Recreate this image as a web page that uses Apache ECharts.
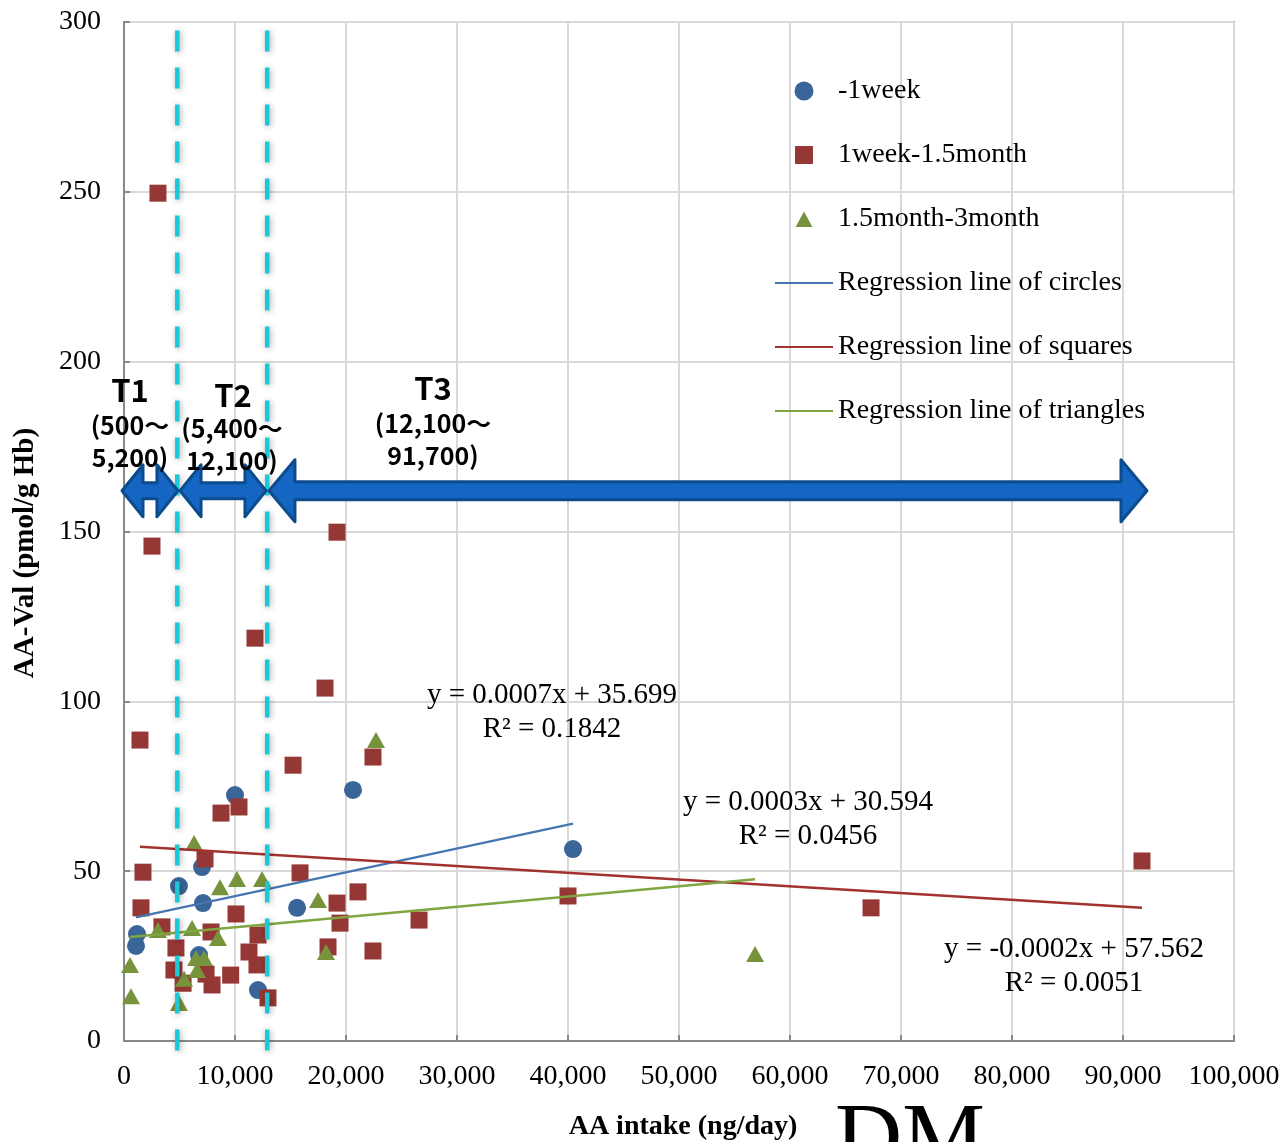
<!DOCTYPE html>
<html>
<head>
<meta charset="utf-8">
<title>AA-Val vs AA intake</title>
<script src="https://cdn.jsdelivr.net/npm/echarts@6/dist/echarts.min.js"></script>
<style>
  html, body { margin: 0; padding: 0; background: #fff; }
  #chart { width: 1285px; height: 1142px; }
</style>
</head>
<body>
<div id="chart"></div>
<script>
(function (window, document) {
    "use strict";

    // ---- data: [AA intake (ng/day), AA-Val (pmol/g Hb)] ----
    const circles = [
        [1080, 28], [1170, 31.5], [4950, 45.6], [6760, 25.3], [7030, 51.2], [7120, 40.6],
        [10000, 72.4], [12070, 15], [15590, 39.2], [20630, 73.9], [40450, 56.5]
    ];
    const squares = [
        [3060, 249.6], [2520, 145.7], [1440, 88.6], [1710, 49.7], [1530, 39.2], [3420, 33.6],
        [4680, 27.4], [4500, 20.9], [5320, 17], [7300, 53.6], [8740, 67.1], [10360, 68.9],
        [10090, 37.4], [7840, 32.1], [7390, 19.7], [7930, 16.5], [9610, 19.4], [11260, 26.2],
        [12070, 31.2], [11980, 22.4], [12970, 12.7], [11800, 118.6], [15230, 81.2], [18110, 103.9],
        [19190, 149.8], [15860, 49.5], [22430, 83.6], [19190, 40.6], [21080, 43.9], [19460, 34.7],
        [18380, 27.7], [22430, 26.5], [26580, 35.6], [40000, 42.7], [67300, 39.2], [91710, 53.0]
    ];
    const triangles = [
        [540, 22.4], [630, 13.2], [3060, 32.7], [4950, 11.2], [5410, 18.3], [6310, 58.3],
        [6130, 33.3], [6490, 24.4], [7210, 24.4], [6580, 20.9], [8470, 30.3], [8650, 45.3],
        [10180, 47.7], [12430, 47.7], [17480, 41.5], [18200, 26.2], [22700, 88.6], [56850, 25.6]
    ];

    // regression line end points, as drawn
    const circleFit = [[1080, 36.4], [40450, 64.0]];
    const squareFit = [[1440, 57.2], [91710, 39.2]];
    const triangleFit = [[540, 30.6], [56850, 47.6]];

    // tertile cut-offs (dashed) and range arrows [from, to, level, big]
    const cutoffs = [[4800, 297.5, -3.3], [12900, 297.5, -3.3]];
    const ranges = [[-180, 4860, 162, 0], [5050, 12790, 162, 0], [13060, 92160, 162, 1]];

    const xTicks = { min: 0, max: 100000, step: 10000 };
    const yTicks = { min: 0, max: 300, step: 50 };

    const names = [
        "-1week", "1week-1.5month", "1.5month-3month",
        "Regression line of circles", "Regression line of squares", "Regression line of triangles"
    ];

    const SERIF = "'Liberation Serif', 'Times New Roman', serif";
    const GOTHIC = "'Noto Sans CJK JP', sans-serif";
    const C = {
        circle: "#3A6598", square: "#953735", triangle: "#77933C",
        circleLine: "#4676B0", squareLine: "#A3322F", triangleLine: "#7FA640",
        grid: "#D9D9D9", axis: "#898989", cut: "#1CC7D6", arrow: "#1566C2", arrowEdge: "#0C4B8C"
    };
    const ICON = {
        square: "path://M0,0M18,18M0.5,0.5L17.5,0.5L17.5,17.5L0.5,17.5Z",
        triangle: "path://M0,0M18,18M9,2L17,16.5L1,16.5Z",
        line: "path://M0,0L58,0L58,2L0,2Z"
    };

    function fmt(v) { return Number(v).toLocaleString("en-US"); }

    function renderCutoff(params, api) {
        const a = api.coord([api.value(0), api.value(1)]);
        const b = api.coord([api.value(0), api.value(2)]);
        return {
            type: "line",
            shape: { x1: a[0], y1: a[1], x2: b[0], y2: b[1] },
            style: {
                stroke: C.cut, lineWidth: 4.5, lineDash: [21, 16],
                shadowBlur: 6, shadowColor: "rgba(0,0,0,0.35)", shadowOffsetX: 1, shadowOffsetY: 1
            }
        };
    }

    function renderArrow(params, api) {
        const a = api.coord([api.value(0), api.value(2)]);
        const b = api.coord([api.value(1), api.value(2)]);
        const big = api.value(3) === 1;
        const hl = big ? 26 : 21, hh = big ? 31 : 26, sh = big ? 9 : 8;
        const x0 = a[0], x1 = b[0], y = a[1];
        const pts = [
            [x0, y], [x0 + hl, y - hh], [x0 + hl, y - sh], [x1 - hl, y - sh], [x1 - hl, y - hh],
            [x1, y], [x1 - hl, y + hh], [x1 - hl, y + sh], [x0 + hl, y + sh], [x0 + hl, y + hh]
        ];
        return {
            type: "polygon",
            shape: { points: pts },
            style: { fill: C.arrow, stroke: C.arrowEdge, lineWidth: 3, lineJoin: "round" }
        };
    }

    // centred text at (x, y)
    function textEl(x, y, text, size, opts) {
        opts = opts || {};
        return Object.assign({
            type: "text", x: x, y: y, z: 20,
            style: {
                text: text, fill: "#000", align: "center", verticalAlign: "middle",
                font: (opts.bold ? "bold " : "") + size + "px " + (opts.family || SERIF),
                lineHeight: opts.lh || size
            }
        }, opts.extra);
    }

    function build() {
        const el = document.getElementById("chart");
        const chart = echarts.init(el, null, { renderer: "canvas" });

        const scatter = (name, data, symbol, size, color) => ({
            name: name, type: "scatter", data: data, symbol: symbol, symbolSize: size,
            itemStyle: { color: color, opacity: 1 }, z: 3
        });
        const fit = (name, data, color) => ({
            name: name, type: "line", data: data, symbol: "none", z: 4,
            lineStyle: { color: color, width: 2.5 }, itemStyle: { color: color }
        });

        chart.setOption({
            animation: false,
            backgroundColor: "#fff",
            grid: { left: 124, right: 51, top: 22, bottom: 101, show: true, borderColor: C.axis, borderWidth: 2 },
            xAxis: {
                type: "value", min: xTicks.min, max: xTicks.max, interval: xTicks.step,
                axisLine: { show: true, lineStyle: { color: C.axis, width: 2 } },
                axisTick: { show: true, inside: true, length: 6, lineStyle: { color: C.axis, width: 2 } },
                splitLine: { show: true, lineStyle: { color: C.grid, width: 2 } },
                axisLabel: { formatter: fmt, color: "#000", fontFamily: SERIF, fontSize: 28, margin: 22 }
            },
            yAxis: {
                type: "value", min: yTicks.min, max: yTicks.max, interval: yTicks.step,
                axisLine: { show: true, lineStyle: { color: C.axis, width: 2 } },
                axisTick: { show: true, inside: true, length: 6, lineStyle: { color: C.axis, width: 2 } },
                splitLine: { show: true, lineStyle: { color: C.grid, width: 2 } },
                axisLabel: { color: "#000", fontFamily: SERIF, fontSize: 28, margin: 23 }
            },
            legend: {
                data: [
                    { name: names[0], icon: "circle" },
                    { name: names[1], icon: ICON.square },
                    { name: names[2], icon: ICON.triangle },
                    { name: names[3], icon: ICON.line },
                    { name: names[4], icon: ICON.line },
                    { name: names[5], icon: ICON.line }
                ],
                orient: "vertical", left: 770, top: 72,
                itemWidth: 58, itemHeight: 19, itemGap: 36, symbolKeepAspect: true,
                textStyle: { color: "#000", fontFamily: SERIF, fontSize: 28 }
            },
            series: [
                scatter(names[0], circles, "circle", 18, C.circle),
                scatter(names[1], squares, "rect", 17, C.square),
                scatter(names[2], triangles, "triangle", [18, 16], C.triangle),
                fit(names[3], circleFit, C.circleLine),
                fit(names[4], squareFit, C.squareLine),
                fit(names[5], triangleFit, C.triangleLine),
                { name: "cutoffs", type: "custom", data: cutoffs, renderItem: renderCutoff, silent: true, z: 8,
                  encode: { x: 0, y: [1, 2] } },
                { name: "ranges", type: "custom", data: ranges, renderItem: renderArrow, silent: true, z: 9,
                  encode: { x: [0, 1], y: 2 } }
            ],
            graphic: [
                // tertile labels
                textEl(130, 390, "T1", 31, { family: GOTHIC, bold: true }),
                textEl(130, 441, "(500～\n5,200)", 25, { family: GOTHIC, bold: true, lh: 32 }),
                textEl(233, 395, "T2", 31, { family: GOTHIC, bold: true }),
                textEl(232, 444, "(5,400～\n12,100)", 25, { family: GOTHIC, bold: true, lh: 32 }),
                textEl(433, 388, "T3", 31, { family: GOTHIC, bold: true }),
                textEl(433, 439, "(12,100～\n91,700)", 25, { family: GOTHIC, bold: true, lh: 32 }),
                // regression equations
                textEl(552, 712, "y = 0.0007x + 35.699\nR² = 0.1842", 29, { lh: 34 }),
                textEl(808, 819, "y = 0.0003x + 30.594\nR² = 0.0456", 29, { lh: 34 }),
                textEl(1074, 966, "y = -0.0002x + 57.562\nR² = 0.0051", 29, { lh: 34 }),
                // axis titles
                textEl(683, 1127, "AA intake (ng/day)", 28, { bold: true }),
                textEl(26, 553, "AA-Val (pmol/g Hb)", 29, { bold: true, extra: { rotation: Math.PI / 2 } }),
                textEl(910, 1143, "DM", 93, {})
            ]
        });
        window.addEventListener("resize", () => chart.resize());
    }

    build();
})(window, document);
</script>
</body>
</html>
